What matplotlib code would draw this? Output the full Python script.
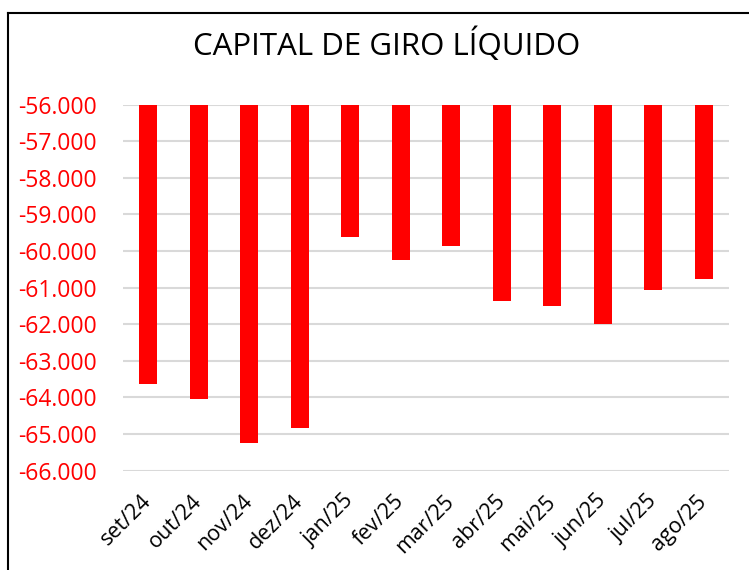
import matplotlib
matplotlib.use("Agg")
import matplotlib.pyplot as plt
import numpy as np
from matplotlib.lines import Line2D

# dados
meses = ["set/24", "out/24", "nov/24", "dez/24", "jan/25", "fev/25",
         "mar/25", "abr/25", "mai/25", "jun/25", "jul/25", "ago/25"]
capital_giro = [-63620, -64030, -65230, -64820, -59610, -60230,
                -59860, -61360, -61500, -61990, -61070, -60750]
y_ticks = [-56000, -57000, -58000, -59000, -60000, -61000,
           -62000, -63000, -64000, -65000, -66000]
y_labels = ["-56.000", "-57.000", "-58.000", "-59.000", "-60.000", "-61.000",
            "-62.000", "-63.000", "-64.000", "-65.000", "-66.000"]

plt.rcParams['font.family'] = ['Open Sans', 'DejaVu Sans']

fig = plt.figure(figsize=(7.49, 5.70), dpi=100)
ax = fig.add_axes([123/749, 99.3/570, 606/749, 366/570])

base = y_ticks[0]
x = np.arange(len(meses))
ax.bar(x, np.array(capital_giro) - base, bottom=base, width=0.36,
       color="#FF0000", zorder=3)

ax.set_ylim(y_ticks[-1], y_ticks[0])
ax.set_xlim(-0.5, len(meses) - 0.5)
ax.set_yticks(y_ticks)
ax.set_yticklabels(y_labels, color="#FF0000", fontsize=16.5)
ax.set_xticks(x)
ax.set_xticklabels(meses, rotation=45, ha="right", va="center",
                   rotation_mode="anchor", fontsize=15.5)
ax.tick_params(axis="both", length=0)
ax.tick_params(axis="y", pad=19)
ax.tick_params(axis="x", pad=20)
ax.yaxis.grid(True, color="#D9D9D9", linewidth=1.5, zorder=0)
ax.set_axisbelow(True)
for s in ax.spines.values():
    s.set_visible(False)

fig.text(387/749, 1 - 45/570, "CAPITAL DE GIRO LÍQUIDO", ha="center",
         va="center", fontsize=22.5)

# moldura
fig.add_artist(Line2D([8/749, 8/749], [0, 1 - 13/570], color="black", lw=1.5,
                      transform=fig.transFigure))
fig.add_artist(Line2D([8/749, 1], [1 - 13/570, 1 - 13/570], color="black", lw=1.5,
                      transform=fig.transFigure))

fig.savefig("out.png", dpi=100)
